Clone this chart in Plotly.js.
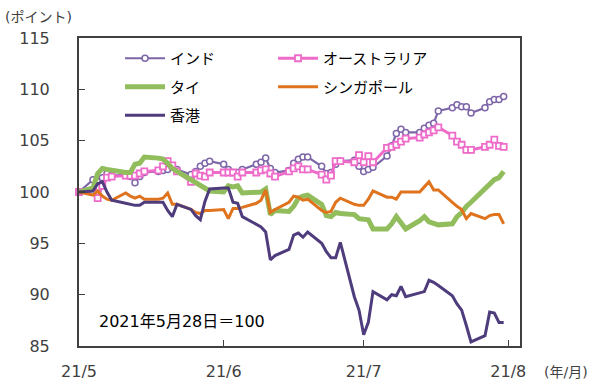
<!DOCTYPE html>
<html>
<head>
<meta charset="utf-8">
<script src="https://cdn.plot.ly/plotly-3.0.1.min.js"></script>
<style>html,body{margin:0;padding:0;background:#fff;}#chart{width:600px;height:386px;}</style>
</head>
<body>
<div id="chart"></div>
<script>
var dates = [
"2021-05-28","2021-05-31","2021-06-01","2021-06-02","2021-06-03","2021-06-04",
"2021-06-07","2021-06-08","2021-06-09","2021-06-10","2021-06-11",
"2021-06-14","2021-06-15","2021-06-16","2021-06-17","2021-06-18",
"2021-06-21","2021-06-22","2021-06-23","2021-06-24","2021-06-25",
"2021-06-28","2021-06-29","2021-06-30","2021-07-01","2021-07-02",
"2021-07-05","2021-07-06","2021-07-07","2021-07-08","2021-07-09",
"2021-07-12","2021-07-13","2021-07-14","2021-07-15","2021-07-16",
"2021-07-19","2021-07-20","2021-07-21","2021-07-22","2021-07-23",
"2021-07-26","2021-07-27","2021-07-28","2021-07-29","2021-07-30",
"2021-08-02","2021-08-03","2021-08-04","2021-08-05","2021-08-06",
"2021-08-09","2021-08-10","2021-08-11","2021-08-12","2021-08-13",
"2021-08-16","2021-08-17","2021-08-18","2021-08-19","2021-08-20",
"2021-08-23","2021-08-24","2021-08-25","2021-08-26","2021-08-27"];

var india = [100,101.2,101.0,101.4,101.8,101.6,101.7,101.5,100.9,101.5,
101.9,102.0,102.1,102.2,102.4,102.2,101.7,102.0,102.5,102.8,
103.0,102.7,102.2,101.9,101.9,102.2,102.7,102.9,103.3,102.3,
101.9,102.1,102.8,103.2,103.4,103.4,102.5,101.8,101.9,102.7,
103.0,103.1,102.5,102.0,102.2,102.4,103.5,104.5,105.7,106.1,
105.8,105.8,106.2,106.5,106.7,107.9,108.2,108.5,108.3,108.3,
107.7,108.2,108.8,109.0,109.0,109.3];

var australia = [100,100.0,99.4,100.6,101.4,101.5,101.6,101.6,101.6,101.8,
102.0,102.1,102.5,103.0,102.6,102.0,101.0,101.8,101.6,101.5,
101.9,101.9,101.9,101.9,101.5,101.9,101.9,102.1,102.2,101.8,
101.5,102.0,102.3,102.5,102.2,102.2,101.7,101.2,101.6,103.0,
103.0,102.9,103.6,102.9,103.5,102.9,104.3,104.4,104.6,104.9,
105.2,105.3,105.6,105.8,106.0,106.3,105.5,104.9,104.6,104.1,
104.1,104.4,104.6,105.1,104.5,104.4];

var thai = [100,100.4,101.8,102.3,102.2,102.1,101.9,101.9,102.7,102.8,
103.4,103.3,103.2,102.8,102.3,102.0,101.2,100.9,100.6,100.3,
100.1,100.0,100.6,100.5,100.6,99.9,99.9,100.0,100.3,97.8,
98.2,98.1,98.6,99.4,99.6,99.7,98.8,97.7,97.6,98.0,
97.9,97.8,97.4,97.3,97.3,96.4,96.4,96.9,97.6,97.0,
96.4,97.2,97.6,97.1,96.9,96.8,96.9,97.6,98.0,98.6,
99.0,100.3,100.8,101.2,101.4,102.0];

var singapore = [100,99.7,100.1,99.6,99.3,99.2,99.9,99.6,99.4,99.6,
99.3,99.3,99.4,99.9,98.8,98.8,98.3,98.0,97.9,98.2,
98.2,98.3,97.4,98.4,98.4,98.5,98.9,99.2,100.2,98.0,
98.3,99.0,99.6,99.5,99.2,99.3,98.2,98.0,98.1,99.0,
99.4,98.8,98.7,98.7,99.3,100.1,99.5,99.5,99.3,100.0,
100.0,100.0,100.5,101.0,100.2,100.2,99.0,98.6,98.3,97.4,
97.9,97.4,97.7,97.8,97.8,96.9];

var hongkong = [100,100.1,100.8,101.0,100.0,99.2,98.9,98.8,98.7,98.7,
99.0,99.0,99.0,98.2,97.6,98.8,98.3,97.7,97.3,99.1,
100.3,100.4,100.4,99.0,98.9,97.6,96.9,96.6,96.1,93.4,
93.8,94.4,95.8,96.0,95.6,96.1,95.0,94.2,93.6,93.6,
95.1,89.8,88.5,86.1,87.3,90.3,89.5,90.0,89.9,90.8,
89.8,90.2,90.3,91.4,91.2,90.9,89.9,89.1,88.5,87.0,
85.4,86.0,88.3,88.2,87.3,87.3];

var seriesNames = ["インド","オーストラリア","タイ","シンガポール","香港"];
var tickDates = ["2021-05-28","2021-06-28","2021-07-28","2021-08-28"];
var tickLabels = ["21/5","21/6","21/7","21/8"];
var yTicks = [85,90,95,100,105,110,115];

var FONT = "'DejaVu Sans', 'Noto Sans CJK JP', sans-serif";
var axisColor = "#404040";

var traces = [
  {x: dates, y: india, name: seriesNames[0], type: "scatter", mode: "lines+markers",
   line: {color: "#7D66A8", width: 2.2}, cliponaxis: false,
   marker: {symbol: "circle", size: 6, color: "#ffffff", line: {color: "#7D66A8", width: 1.5}},
   legend: "legend", legendgroup: "a"},
  {x: dates, y: australia, name: seriesNames[1], type: "scatter", mode: "lines+markers",
   line: {color: "#EE6BC9", width: 3}, cliponaxis: false,
   marker: {symbol: "square", size: 6, color: "#ffffff", line: {color: "#EE6BC9", width: 1.8}},
   legend: "legend2", legendgroup: "b"},
  {x: dates, y: thai, name: seriesNames[2], type: "scatter", mode: "lines",
   line: {color: "#92BD5C", width: 5}, legend: "legend", legendgroup: "c"},
  {x: dates, y: singapore, name: seriesNames[3], type: "scatter", mode: "lines",
   line: {color: "#E0731D", width: 3}, legend: "legend2", legendgroup: "d"},
  {x: dates, y: hongkong, name: seriesNames[4], type: "scatter", mode: "lines",
   line: {color: "#4E3C7C", width: 3}, legend: "legend", legendgroup: "e"}
];

var legendBase = {
  orientation: "v", yanchor: "top", xanchor: "left",
  bgcolor: "rgba(0,0,0,0)", borderwidth: 0,
  font: {family: "'Noto Sans CJK JP', sans-serif", size: 15, color: "#000"},
  itemwidth: 40, tracegroupgap: 6, traceorder: "grouped"
};

var layout = {
  width: 600, height: 386,
  margin: {l: 79, r: 80, t: 38, b: 40},
  paper_bgcolor: "#ffffff", plot_bgcolor: "#ffffff",
  font: {family: FONT, size: 16, color: axisColor},
  showlegend: true,
  legend: Object.assign({}, legendBase, {x: 0.093, y: 0.987}),
  legend2: Object.assign({}, legendBase, {x: 0.44, y: 0.987}),
  xaxis: {
    type: "date", range: ["2021-05-28", "2021-08-30 12:00"],
    tickmode: "array", tickvals: tickDates, ticktext: tickLabels,
    ticks: "inside", ticklen: 6, tickwidth: 1.5, tickcolor: axisColor,
    showline: true, linecolor: axisColor, linewidth: 2, mirror: true,
    showgrid: false, zeroline: false,
    tickfont: {family: FONT, size: 16, color: axisColor},
    ticklabelstandoff: 10
  },
  yaxis: {
    range: [85, 115], tickmode: "array", tickvals: yTicks,
    ticks: "inside", ticklen: 6, tickwidth: 1.5, tickcolor: axisColor,
    showline: true, linecolor: axisColor, linewidth: 2, mirror: true,
    showgrid: false, zeroline: false,
    tickfont: {family: FONT, size: 16, color: axisColor},
    ticklabelstandoff: 24
  },
  annotations: [
    {text: "(ポイント)", xref: "paper", yref: "paper", x: -0.172, y: 1.068,
     xanchor: "left", yanchor: "middle", showarrow: false,
     font: {family: FONT, size: 14, color: axisColor}},
    {text: "(年/月)", xref: "paper", yref: "paper", x: 1.050, y: -0.0844,
     xanchor: "left", yanchor: "middle", showarrow: false,
     font: {family: FONT, size: 14, color: axisColor}},
    {text: "2021年5月28日＝100", xref: "paper", yref: "paper", x: 0.0408, y: 0.078,
     xanchor: "left", yanchor: "middle", showarrow: false,
     font: {family: FONT, size: 16, color: "#000"}}
  ]
};

Plotly.newPlot("chart", traces, layout, {staticPlot: true, displayModeBar: false});
</script>
</body>
</html>
